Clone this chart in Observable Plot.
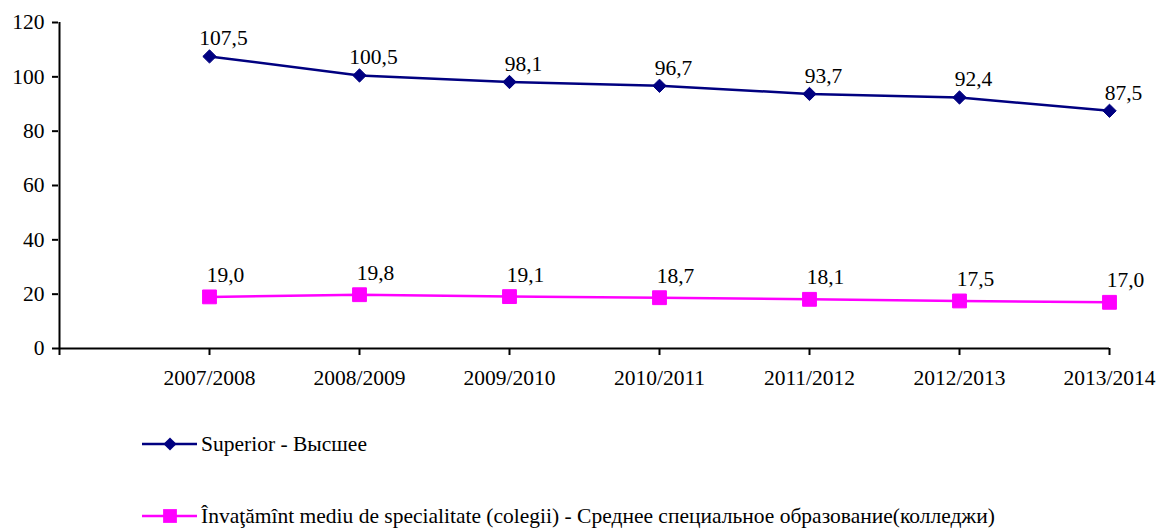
<!DOCTYPE html>
<html><head><meta charset="utf-8">
<script src="https://cdn.jsdelivr.net/npm/d3@7"></script>
<script src="https://cdn.jsdelivr.net/npm/@observablehq/plot@0.6"></script>
<style>
body{margin:0;background:#fff;font-family:'Liberation Serif',serif;}
#legend{padding-left:142px;font-family:'Liberation Serif',serif;}
.item{display:flex;align-items:center;height:24px;font-size:21.5px;color:#000;white-space:nowrap;font-family:'Liberation Serif',serif;}
.item svg{margin-right:3px;}
</style></head><body>
<div id="chart"></div>
<div id="legend"></div>
<script>
const years = ["2007/2008","2008/2009","2009/2010","2010/2011","2011/2012","2012/2013","2013/2014"];
const superior = [107.5,100.5,98.1,96.7,93.7,92.4,87.5];
const colegii = [19.0,19.8,19.1,18.7,18.1,17.5,17.0];
const yTicks = [0,20,40,60,80,100,120];
const seriesNames = ["Superior - Высшее","Învaţămînt mediu de specialitate (colegii) - Среднее специальное образование(колледжи)"];
const colors = ["#000080","#FF00FF"];

const fmt = d => d.toFixed(1).replace(".", ",");
const dataA = years.map((y,i)=>({year:y, value:superior[i]}));
const dataB = years.map((y,i)=>({year:y, value:colegii[i]}));
const domainX = ["", ...years];
const FF = "'Liberation Serif', serif";
const FS = 21.5;

const chart = Plot.plot({
  width:1161, height:400,
  marginLeft:58, marginRight:52, marginTop:22, marginBottom:52,
  style:"font-family:'Liberation Serif',serif;font-size:21.5px;color:#000;background:#fff;",
  x:{type:"point", domain:domainX, padding:0},
  y:{domain:[0,120]},
  marks:[
    Plot.ruleX([""], {y1:0, y2:120, stroke:"#000", strokeWidth:2}),
    Plot.ruleY([0], {stroke:"#000", strokeWidth:2}),
    Plot.axisY({ticks:yTicks, tickSize:6, tickPadding:8, label:null, stroke:"#000", strokeWidth:2, fontSize:FS, fontFamily:FF}),
    Plot.axisX({ticks:domainX, tickSize:7, tickPadding:14, label:null, stroke:"#000", strokeWidth:2, fontSize:FS, fontFamily:FF}),
    Plot.line(dataA, {x:"year", y:"value", stroke:colors[0], strokeWidth:2.5}),
    Plot.line(dataB, {x:"year", y:"value", stroke:colors[1], strokeWidth:2.5}),
    Plot.dot(dataA, {x:"year", y:"value", symbol:"diamond2", r:6, fill:colors[0], stroke:colors[0], strokeWidth:1}),
    Plot.dot(dataB, {x:"year", y:"value", symbol:"square", r:7.8, fill:colors[1], stroke:colors[1], strokeWidth:1}),
    Plot.text(dataA, {x:"year", y:"value", text:d=>fmt(d.value), dx:14, dy:-18, fontSize:FS, fontFamily:FF, fill:"#000"}),
    Plot.text(dataB, {x:"year", y:"value", text:d=>fmt(d.value), dx:16, dy:-22, fontSize:FS, fontFamily:FF, fill:"#000"})
  ]
});
document.getElementById("chart").append(chart);

const legend = document.getElementById("legend");
const symbols = [d3.symbolDiamond2, d3.symbolSquare];
const sizes = [110, 190];
seriesNames.forEach((name,i)=>{
  const div = document.createElement("div");
  div.className = "item";
  div.style.marginTop = i===0 ? "32px" : "48px";
  const s = d3.create("svg").attr("width",56).attr("height",24);
  s.append("line").attr("x1",0).attr("x2",55).attr("y1",12).attr("y2",12).attr("stroke",colors[i]).attr("stroke-width",2.5);
  s.append("path").attr("transform","translate(28,12)").attr("d", d3.symbol(symbols[i], sizes[i])()).attr("fill",colors[i]);
  div.append(s.node());
  const t = document.createElement("span");
  t.textContent = name;
  div.append(t);
  legend.append(div);
});
</script>
</body></html>
